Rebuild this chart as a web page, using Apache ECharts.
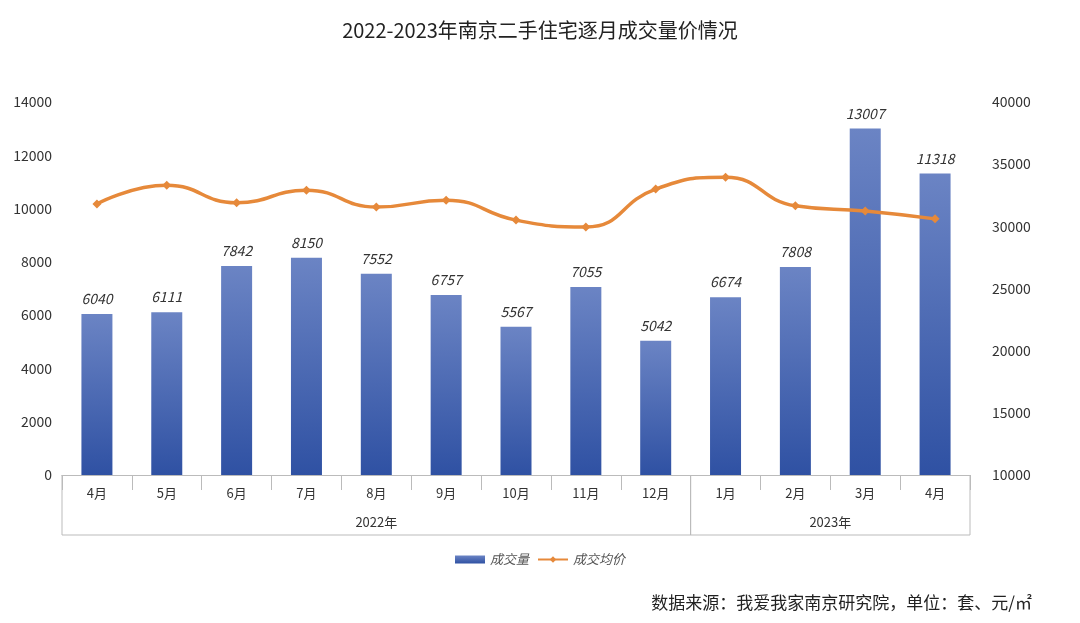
<!DOCTYPE html>
<html><head><meta charset="utf-8">
<script src="https://cdn.jsdelivr.net/npm/echarts@6/dist/echarts.min.js"></script>
<style>html,body{margin:0;padding:0;background:#fff}#c{width:1080px;height:623px}</style>
</head><body><div id="c"></div>
<script>
const months = ['4月','5月','6月','7月','8月','9月','10月','11月','12月','1月','2月','3月','4月'];
const volume = [6040,6111,7842,8150,7552,6757,5567,7055,5042,6674,7808,13007,11318];
const price = [31800,33300,31900,32900,31550,32100,30500,29950,33000,33950,31650,31230,30600];
const years = [{name:'2022年',from:0,to:9},{name:'2023年',from:9,to:13}];
const leftTicks = {min:0,max:14000,interval:2000};
const rightTicks = {min:10000,max:40000,interval:5000};

const chart = echarts.init(document.getElementById('c'));
const font = '"Noto Sans CJK SC","Noto Sans",sans-serif';
chart.setOption({
  textStyle:{fontFamily:font},
  title:{text:'2022-2023年南京二手住宅逐月成交量价情况',left:'center',top:15,textStyle:{fontSize:20,fontWeight:'normal',color:'#222',fontFamily:font}},
  grid:{left:62,right:110,top:102,bottom:148,containLabel:false,outerBoundsMode:'none'},
  legend:{bottom:52,left:'center',itemWidth:30,itemHeight:8,textStyle:{fontStyle:'italic',color:'#555',fontSize:13},
    data:[{name:'成交量',icon:'rect'},{name:'成交均价'}]},
  xAxis:{type:'category',data:months,axisTick:{show:true,length:15,lineStyle:{color:'#bbb'}},
    axisLine:{lineStyle:{color:'#bbb'}},axisLabel:{color:'#333',fontSize:13,margin:12}},
  yAxis:[
    {type:'value',...leftTicks,splitLine:{show:false},axisLabel:{color:'#333',fontSize:14,margin:10,formatter:v=>String(v)}},
    {type:'value',...rightTicks,splitLine:{show:false},axisLabel:{color:'#333',fontSize:14,margin:22,formatter:v=>String(v)}}
  ],
  series:[
    {name:'成交量',type:'bar',data:volume,barWidth:31,
      itemStyle:{color:new echarts.graphic.LinearGradient(0,0,0,1,[{offset:0,color:'#6b84c4'},{offset:1,color:'#2f51a3'}])},
      label:{show:true,position:'top',fontStyle:'italic',color:'#333',fontSize:14,distance:8}},
    {name:'成交均价',type:'line',yAxisIndex:1,data:price,smooth:true,symbol:'diamond',symbolSize:9,
      lineStyle:{color:'#e6893a',width:3.5},itemStyle:{color:'#e6893a'},z:5}
  ]
});
const bw = chart.convertToPixel({xAxisIndex:0},1)-chart.convertToPixel({xAxisIndex:0},0);
const x0 = chart.convertToPixel({xAxisIndex:0},0)-bw/2;
const yb = chart.convertToPixel({yAxisIndex:0},0);
const g = [];
g.push({type:'line',shape:{x1:x0,y1:yb+60,x2:x0+months.length*bw,y2:yb+60},style:{stroke:'#bbb'}});
years.forEach(y=>{
  const a=x0+y.from*bw,b=x0+y.to*bw;
  g.push({type:'line',shape:{x1:a,y1:yb,x2:a,y2:yb+60},style:{stroke:'#bbb'}});
  g.push({type:'line',shape:{x1:b,y1:yb,x2:b,y2:yb+60},style:{stroke:'#bbb'}});
  g.push({type:'text',x:(a+b)/2,y:yb+47,style:{text:y.name,font:'13px '+font,fill:'#333',textAlign:'center',textVerticalAlign:'middle'}});
});
g.push({type:'text',right:48,bottom:12,style:{text:'数据来源：我爱我家南京研究院，单位：套、元/㎡',font:'17px '+font,fill:'#222'}});
chart.setOption({graphic:g});
</script></body></html>
